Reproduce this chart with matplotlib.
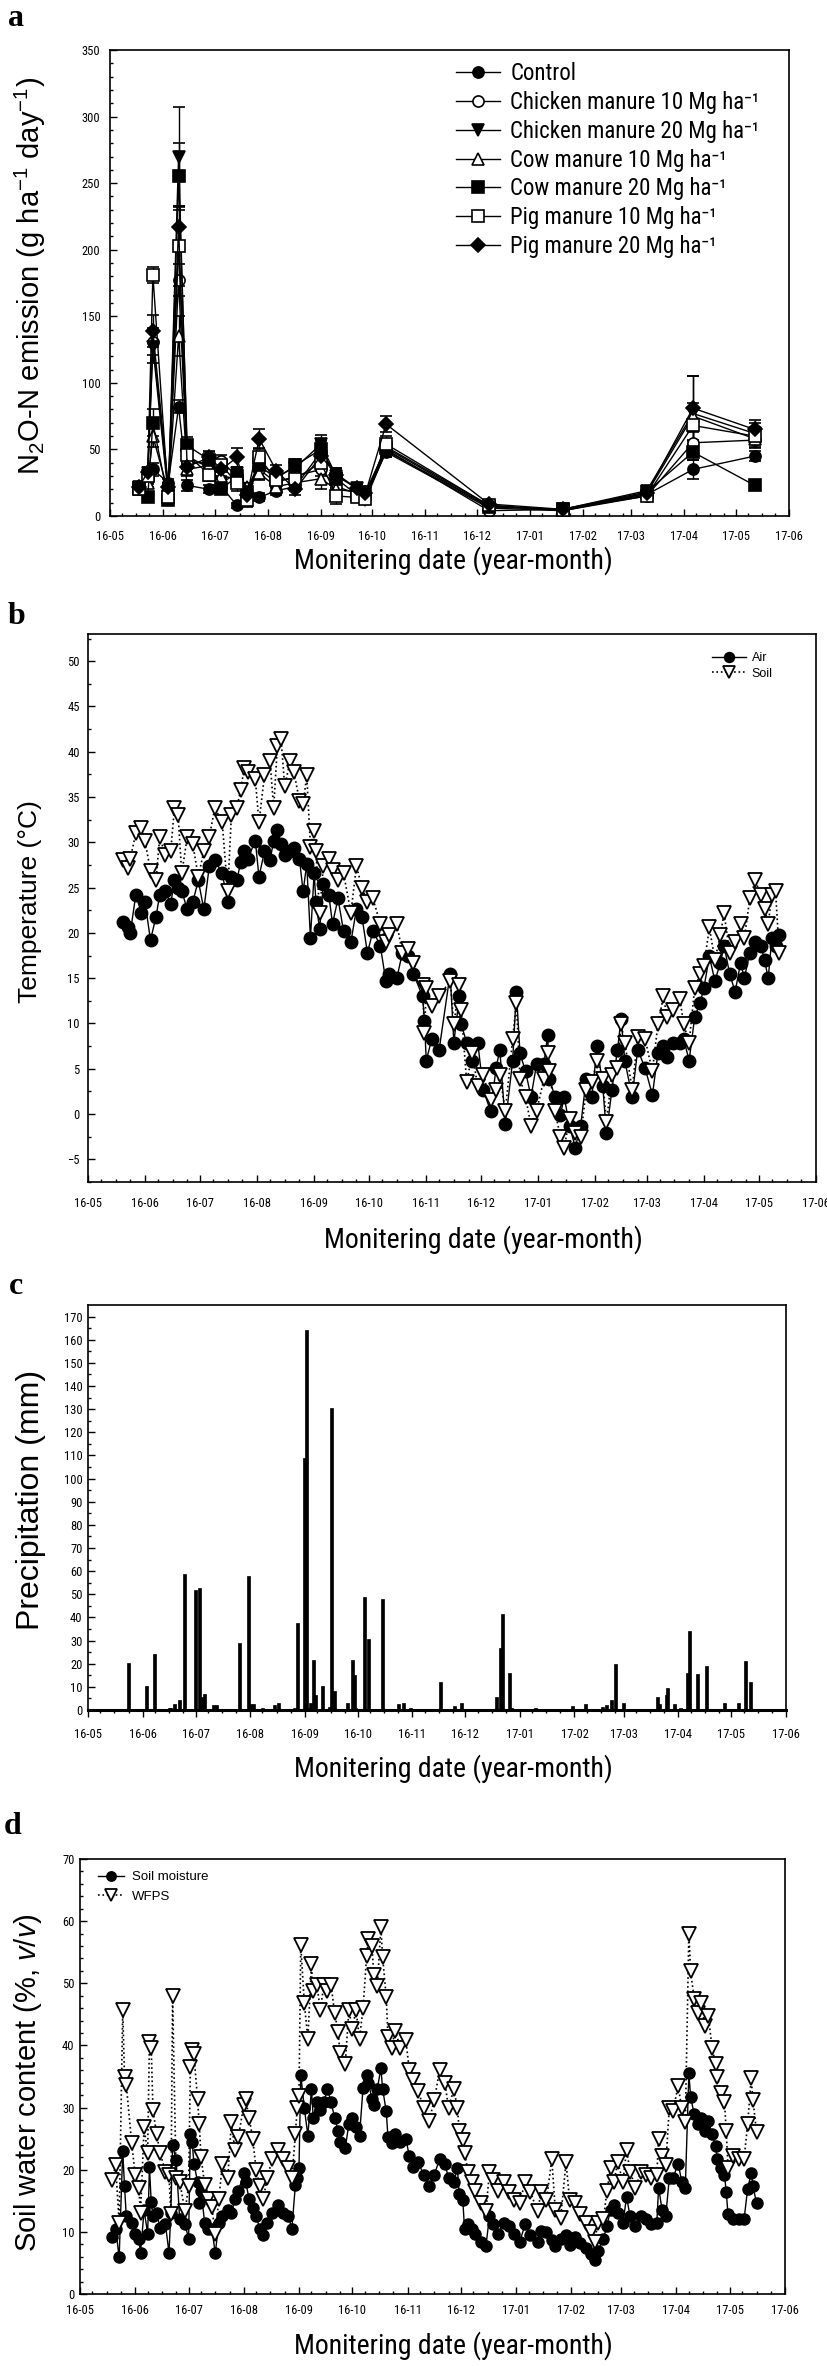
import matplotlib
matplotlib.use('Agg')
import matplotlib.pyplot as plt
import matplotlib.dates as mdates
from matplotlib import font_manager
from matplotlib.ticker import MultipleLocator, FixedLocator
import pandas as pd
import numpy as np

# ---------------- fonts ----------------
installed = {f.name for f in font_manager.fontManager.ttflist}
NARROW = next((n for n in ['Liberation Sans Narrow', 'Roboto Condensed', 'Open Sans Condensed']
               if n in installed), 'Liberation Sans')
plt.rcParams['font.family'] = [NARROW, 'DejaVu Sans']
plt.rcParams['mathtext.fontset'] = 'custom'
plt.rcParams['mathtext.rm'] = 'Liberation Sans'
plt.rcParams['mathtext.it'] = 'Liberation Sans:italic'
plt.rcParams['mathtext.default'] = 'regular'
WIDE = ['Liberation Sans', 'DejaVu Sans']

# ---------------- (a) N2O emission ----------------
a_dates = ['2016-05-18', '2016-05-23', '2016-05-26', '2016-06-04', '2016-06-10', '2016-06-15',
           '2016-06-28', '2016-07-05', '2016-07-14', '2016-07-20', '2016-07-27', '2016-08-06',
           '2016-08-17', '2016-09-01', '2016-09-10', '2016-09-22', '2016-09-27', '2016-10-09',
           '2016-12-08', '2017-01-20', '2017-03-10', '2017-04-06', '2017-05-12']
control = [21, 30, 35, 25, 82, 23, 20, 22, 8, 15, 14, 19, 22, 48, 32, 20, 14, 48, 6, 4, 16, 35, 45]
cm10 = [20, 28, 131, 20, 177, 40, 40, 41, 30, 17, 35, 25, 30, 35, 22, 17, 15, 50, 4, 5, 15, 55, 57]
cm20 = [22, 32, 127, 15, 270, 45, 36, 25, 32, 20, 40, 30, 36, 54, 30, 21, 12, 49, 7, 5, 19, 77, 62]
cow10 = [20, 25, 60, 18, 135, 35, 38, 30, 28, 22, 32, 22, 25, 28, 20, 18, 16, 52, 8, 4, 17, 75, 58]
cow20 = [21, 14, 70, 12, 255, 53, 42, 20, 30, 18, 38, 28, 38, 50, 28, 16, 18, 51, 7, 5, 18, 48, 23]
pig10 = [20, 30, 181, 14, 203, 46, 31, 38, 25, 12, 44, 27, 28, 40, 15, 14, 13, 54, 8, 4, 15, 68, 60]
pig20 = [22, 33, 139, 22, 217, 37, 44, 35, 44, 16, 58, 34, 20, 45, 31, 21, 17, 69, 9, 5, 17, 81, 65]

control_err = [2, 3, 5, 3, 5, 4, 3, 3, 2, 3, 3, 3, 3, 5, 4, 2, 2, 4, 1, 1, 2, 7, 4]
cm10_err = [2, 4, 10, 3, 12, 5, 6, 5, 5, 3, 6, 4, 4, 5, 4, 2, 2, 4, 1, 1, 2, 8, 6]
cm20_err = [2, 4, 12, 4, 37, 6, 5, 4, 5, 3, 5, 4, 5, 7, 5, 3, 2, 5, 1, 1, 2, 28, 8]
cow10_err = [2, 3, 8, 3, 15, 5, 5, 4, 4, 3, 5, 3, 4, 8, 5, 3, 2, 5, 1, 1, 2, 10, 6]
cow20_err = [2, 3, 10, 3, 25, 6, 6, 3, 5, 3, 5, 4, 5, 6, 5, 3, 3, 5, 1, 1, 2, 6, 3]
pig10_err = [2, 4, 6, 3, 30, 6, 5, 5, 6, 5, 6, 4, 5, 6, 6, 3, 2, 6, 1, 1, 2, 12, 6]
pig20_err = [2, 4, 12, 3, 15, 6, 5, 5, 7, 4, 7, 4, 4, 6, 5, 3, 2, 6, 1, 1, 2, 24, 7]

a_labels = ['Control', 'Chicken manure 10 Mg ha\u207b\u00b9', 'Chicken manure 20 Mg ha\u207b\u00b9',
            'Cow manure 10 Mg ha\u207b\u00b9', 'Cow manure 20 Mg ha\u207b\u00b9',
            'Pig manure 10 Mg ha\u207b\u00b9', 'Pig manure 20 Mg ha\u207b\u00b9']

# ---------------- (b) temperature ----------------
b_dates = ['2016-05-20', '2016-05-23', '2016-05-24', '2016-05-27', '2016-05-30', '2016-06-01',
           '2016-06-04', '2016-06-07', '2016-06-09', '2016-06-12', '2016-06-15', '2016-06-17',
           '2016-06-19', '2016-06-21', '2016-06-24', '2016-06-27', '2016-06-30', '2016-07-03',
           '2016-07-06', '2016-07-09', '2016-07-13', '2016-07-16', '2016-07-18', '2016-07-21',
           '2016-07-23', '2016-07-25', '2016-07-27', '2016-07-31', '2016-08-02', '2016-08-05',
           '2016-08-08', '2016-08-10', '2016-08-12', '2016-08-14', '2016-08-16', '2016-08-19',
           '2016-08-21', '2016-08-24', '2016-08-26', '2016-08-28', '2016-08-30', '2016-09-01',
           '2016-09-02', '2016-09-04', '2016-09-06', '2016-09-09', '2016-09-11', '2016-09-14',
           '2016-09-17', '2016-09-21', '2016-09-24', '2016-09-27', '2016-09-30', '2016-10-03',
           '2016-10-07', '2016-10-10', '2016-10-12', '2016-10-16', '2016-10-19', '2016-10-22',
           '2016-10-25', '2016-10-30', '2016-10-31', '2016-11-01', '2016-11-04', '2016-11-08',
           '2016-11-14', '2016-11-16', '2016-11-19', '2016-11-20', '2016-11-23', '2016-11-26',
           '2016-11-29', '2016-12-02', '2016-12-06', '2016-12-09', '2016-12-11', '2016-12-14',
           '2016-12-18', '2016-12-20', '2016-12-22', '2016-12-25', '2016-12-28', '2016-12-31',
           '2017-01-04', '2017-01-06', '2017-01-07', '2017-01-10', '2017-01-13', '2017-01-15',
           '2017-01-18', '2017-01-21', '2017-01-24', '2017-01-27', '2017-01-30', '2017-02-02',
           '2017-02-05', '2017-02-07', '2017-02-10', '2017-02-13', '2017-02-15', '2017-02-17',
           '2017-02-21', '2017-02-24', '2017-02-28', '2017-03-04', '2017-03-07', '2017-03-10',
           '2017-03-12', '2017-03-15', '2017-03-19', '2017-03-21', '2017-03-24', '2017-03-27',
           '2017-03-30', '2017-04-01', '2017-04-04', '2017-04-07', '2017-04-10', '2017-04-12',
           '2017-04-15', '2017-04-18', '2017-04-21', '2017-04-23', '2017-04-26', '2017-04-29',
           '2017-05-02', '2017-05-04', '2017-05-06', '2017-05-08', '2017-05-10', '2017-05-12']
air_temp = [21.2, 20.6, 20.0, 24.2, 22.2, 23.4, 19.2, 21.8, 24.2, 24.6, 23.2, 25.8,
            25.0, 24.6, 22.6, 23.4, 25.8, 22.6, 27.4, 28.0, 26.6, 23.4, 26.2, 25.8,
            27.8, 29.0, 28.2, 30.2, 26.2, 29.0, 28.0, 30.2, 31.4, 29.8, 28.6, 29.0,
            29.4, 28.2, 24.6, 27.6, 19.4, 26.6, 23.4, 20.4, 25.4, 24.2, 21.0, 23.8,
            20.2, 19.0, 22.6, 21.8, 17.8, 20.2, 18.6, 14.7, 15.5, 15.0, 17.8, 17.4,
            15.5, 13.0, 10.3, 5.9, 8.3, 7.1, 15.5, 7.9, 13.0, 9.9, 7.9, 5.9,
            7.9, 2.7, 0.3, 5.1, 7.1, -1.1, 5.9, 13.5, 6.7, 4.7, 1.9, 5.5,
            5.5, 8.7, 3.9, 1.9, -0.1, 1.9, -1.3, -3.7, -1.3, 3.9, 1.9, 7.5,
            3.1, -2.1, 2.7, 7.1, 10.5, 5.9, 1.9, 7.1, 5.1, 2.1, 6.7, 7.5,
            6.3, 7.9, 7.9, 8.3, 5.9, 10.7, 12.3, 13.9, 17.4, 14.7, 16.7, 18.6,
            15.5, 13.5, 16.7, 15.0, 17.8, 19.0, 18.6, 17.0, 15.0, 19.4, 18.6, 19.8]
soil_temp = [28.0, 27.2, 28.2, 31.0, 31.6, 30.2, 26.8, 25.8, 30.6, 28.6, 29.0, 33.8,
             33.0, 26.6, 30.6, 29.8, 26.2, 29.0, 30.6, 33.8, 32.2, 24.6, 33.0, 33.8,
             35.8, 38.2, 37.8, 37.0, 32.2, 37.4, 39.0, 33.8, 40.6, 41.4, 36.2, 39.0,
             37.8, 34.6, 34.2, 37.4, 29.5, 31.2, 29.0, 22.2, 27.4, 28.2, 27.0, 25.8,
             26.6, 22.2, 27.4, 25.0, 23.4, 23.8, 21.0, 19.0, 19.8, 21.0, 17.8, 18.2,
             16.7, 14.3, 9.0, 13.9, 11.9, 13.0, 14.7, 9.9, 14.3, 11.5, 3.5, 6.7,
             3.1, 4.3, 1.5, 2.7, 4.3, 0.3, 8.3, 12.3, 3.9, 1.9, -1.3, 0.3,
             3.9, 6.7, 4.7, 0.3, -2.5, -3.7, -0.5, -2.1, -2.5, 2.7, 3.5, 5.9,
             3.9, -0.9, 4.3, 5.1, 9.9, 7.9, 2.7, 8.5, 8.3, 4.7, 9.9, 13.0,
             10.7, 11.5, 12.7, 9.9, 7.9, 13.9, 15.5, 16.3, 20.6, 17.0, 19.8, 22.2,
             17.8, 19.0, 21.0, 19.4, 23.8, 25.8, 24.2, 22.6, 21.0, 24.2, 24.6, 17.8]

# ---------------- (c) precipitation ----------------
c_dates = ['2016-05-24', '2016-05-29', '2016-06-03', '2016-06-05', '2016-06-08', '2016-06-16',
           '2016-06-17', '2016-06-19', '2016-06-22', '2016-06-25', '2016-06-29', '2016-07-01',
           '2016-07-03', '2016-07-05', '2016-07-06', '2016-07-09', '2016-07-11', '2016-07-13',
           '2016-07-26', '2016-07-31', '2016-08-01', '2016-08-03', '2016-08-08', '2016-08-15',
           '2016-08-17', '2016-08-26', '2016-08-28', '2016-09-01', '2016-09-02', '2016-09-03',
           '2016-09-04', '2016-09-06', '2016-09-07', '2016-09-11', '2016-09-15', '2016-09-16',
           '2016-09-18', '2016-09-25', '2016-09-28', '2016-09-29', '2016-09-30', '2016-10-05',
           '2016-10-07', '2016-10-15', '2016-10-24', '2016-10-27', '2016-10-31', '2016-11-17',
           '2016-11-25', '2016-11-29', '2016-12-19', '2016-12-21', '2016-12-22', '2016-12-26',
           '2016-12-27', '2017-01-10', '2017-01-31', '2017-02-07', '2017-02-17', '2017-02-19',
           '2017-02-22', '2017-02-24', '2017-03-01', '2017-03-20', '2017-03-21', '2017-03-25',
           '2017-03-26', '2017-03-30', '2017-04-02', '2017-04-06', '2017-04-07', '2017-04-12',
           '2017-04-17', '2017-04-27', '2017-05-05', '2017-05-09', '2017-05-12']
precip = [20.2, 0.5, 10.3, 0.5, 24.0, 1.0, 1.0, 2.4, 4.4, 58.7, 0.5, 52.0,
          52.8, 5.7, 7.0, 0.5, 2.0, 2.0, 29.0, 58.0, 2.4, 2.4, 1.0, 2.0,
          3.0, 0.7, 37.6, 109.0, 164.0, 0.8, 3.0, 21.8, 6.3, 10.5, 1.3, 130.7,
          8.0, 3.0, 21.5, 15.0, 0.7, 48.8, 30.6, 48.0, 2.6, 3.0, 0.9, 12.0,
          1.7, 3.0, 5.5, 26.7, 41.3, 16.0, 0.7, 0.7, 1.7, 2.6, 1.3, 2.0,
          4.4, 19.8, 3.0, 5.5, 2.6, 6.6, 9.6, 2.6, 1.0, 16.2, 34.0, 15.6,
          19.0, 3.0, 3.0, 21.0, 12.0]

# ---------------- (d) soil water ----------------
d_dates = ['2016-05-19', '2016-05-21', '2016-05-23', '2016-05-25', '2016-05-26', '2016-05-27',
           '2016-05-30', '2016-06-01', '2016-06-03', '2016-06-04', '2016-06-06', '2016-06-08',
           '2016-06-09', '2016-06-10', '2016-06-11', '2016-06-13', '2016-06-15', '2016-06-18',
           '2016-06-20', '2016-06-21', '2016-06-22', '2016-06-24', '2016-06-26', '2016-06-29',
           '2016-07-01', '2016-07-02', '2016-07-03', '2016-07-04', '2016-07-06', '2016-07-07',
           '2016-07-08', '2016-07-10', '2016-07-12', '2016-07-14', '2016-07-16', '2016-07-18',
           '2016-07-20', '2016-07-23', '2016-07-25', '2016-07-27', '2016-07-29', '2016-08-01',
           '2016-08-02', '2016-08-04', '2016-08-06', '2016-08-08', '2016-08-10', '2016-08-12',
           '2016-08-14', '2016-08-17', '2016-08-20', '2016-08-23', '2016-08-26', '2016-08-28',
           '2016-08-30', '2016-08-31', '2016-09-01', '2016-09-02', '2016-09-04', '2016-09-06',
           '2016-09-08', '2016-09-09', '2016-09-11', '2016-09-13', '2016-09-15', '2016-09-17',
           '2016-09-19', '2016-09-21', '2016-09-23', '2016-09-24', '2016-09-27', '2016-09-29',
           '2016-10-01', '2016-10-03', '2016-10-05', '2016-10-07', '2016-10-09', '2016-10-10',
           '2016-10-12', '2016-10-13', '2016-10-15', '2016-10-17', '2016-10-18', '2016-10-20',
           '2016-10-21', '2016-10-23', '2016-10-25', '2016-10-28', '2016-10-31', '2016-11-02',
           '2016-11-04', '2016-11-07', '2016-11-10', '2016-11-13', '2016-11-16', '2016-11-19',
           '2016-11-22', '2016-11-24', '2016-11-27', '2016-11-29', '2016-11-30', '2016-12-02',
           '2016-12-03', '2016-12-05', '2016-12-07', '2016-12-09', '2016-12-12', '2016-12-15',
           '2016-12-17', '2016-12-19', '2016-12-22', '2016-12-25', '2016-12-28', '2016-12-31',
           '2017-01-03', '2017-01-06', '2017-01-09', '2017-01-13', '2017-01-15', '2017-01-18',
           '2017-01-21', '2017-01-23', '2017-01-26', '2017-01-29', '2017-01-31', '2017-02-03',
           '2017-02-06', '2017-02-09', '2017-02-12', '2017-02-14', '2017-02-16', '2017-02-19',
           '2017-02-21', '2017-02-23', '2017-02-25', '2017-02-27', '2017-03-02', '2017-03-04',
           '2017-03-06', '2017-03-09', '2017-03-12', '2017-03-15', '2017-03-18', '2017-03-21',
           '2017-03-22', '2017-03-24', '2017-03-26', '2017-03-28', '2017-03-30', '2017-04-02',
           '2017-04-04', '2017-04-06', '2017-04-08', '2017-04-09', '2017-04-11', '2017-04-13',
           '2017-04-15', '2017-04-17', '2017-04-19', '2017-04-21', '2017-04-23', '2017-04-24',
           '2017-04-26', '2017-04-28', '2017-04-29', '2017-04-30', '2017-05-03', '2017-05-06',
           '2017-05-09', '2017-05-11', '2017-05-13', '2017-05-14', '2017-05-16']
soil_moist = [9.2, 10.5, 5.9, 23.0, 17.4, 12.5, 11.5, 9.7, 8.9, 6.6, 13.5, 9.7,
              20.4, 14.8, 12.5, 13.0, 10.7, 11.2, 6.6, 13.0, 24.0, 21.5, 12.0, 11.2,
              8.9, 25.8, 24.5, 21.0, 18.1, 14.6, 16.6, 11.5, 10.5, 10.5, 6.6, 11.5,
              12.5, 13.5, 13.0, 15.3, 16.6, 19.4, 18.1, 15.3, 13.8, 12.5, 10.5, 9.5,
              11.5, 13.0, 14.3, 13.0, 12.5, 10.5, 17.6, 18.6, 20.2, 35.3, 29.9, 25.5,
              33.0, 28.4, 30.9, 29.6, 30.9, 33.0, 30.9, 28.4, 26.3, 24.5, 23.5, 27.3,
              28.4, 26.8, 25.5, 33.2, 35.3, 34.0, 31.4, 30.4, 33.0, 36.3, 33.0, 29.4,
              25.3, 24.3, 25.8, 24.5, 25.0, 22.2, 20.4, 21.2, 19.2, 17.4, 19.2, 21.7,
              21.0, 18.6, 18.1, 20.2, 16.1, 15.1, 10.5, 11.2, 10.5, 9.7, 8.4, 7.7,
              12.5, 11.2, 9.7, 11.5, 11.0, 9.7, 8.4, 11.2, 9.5, 8.4, 10.2, 10.0,
              8.7, 7.7, 8.9, 9.5, 7.9, 9.2, 8.2, 7.4, 6.4, 5.4, 6.9, 8.9,
              11.0, 13.5, 14.3, 13.0, 11.5, 15.6, 12.5, 11.0, 12.5, 12.0, 11.2, 11.5,
              17.1, 13.5, 12.5, 18.6, 18.6, 21.0, 18.1, 17.1, 35.5, 31.7, 28.9, 27.3,
              28.4, 26.3, 27.8, 25.8, 23.8, 21.7, 20.2, 19.2, 16.4, 12.8, 12.0, 12.0,
              12.0, 16.9, 19.4, 17.4, 14.6]
wfps = [18.4, 20.7, 11.5, 45.7, 35.0, 33.7, 24.3, 19.2, 17.1, 13.0, 26.8, 22.7,
        40.6, 39.6, 29.6, 25.8, 22.7, 19.7, 19.2, 12.8, 48.0, 18.6, 18.1, 13.3,
        17.4, 36.5, 39.3, 38.6, 31.4, 27.3, 22.0, 17.6, 15.3, 14.0, 9.7, 15.3,
        21.0, 18.6, 27.6, 23.2, 25.3, 30.4, 31.4, 28.4, 25.0, 19.9, 17.4, 15.3,
        18.6, 21.7, 23.2, 21.7, 20.2, 18.6, 25.8, 29.9, 31.9, 56.2, 46.8, 41.1,
        53.1, 48.8, 49.8, 45.7, 49.8, 48.8, 49.8, 45.2, 42.2, 38.8, 37.0, 45.7,
        42.7, 45.7, 41.1, 46.0, 54.4, 57.2, 56.0, 51.4, 49.6, 59.0, 54.2, 47.8,
        41.4, 39.6, 42.4, 39.6, 40.9, 36.0, 34.5, 32.7, 29.9, 27.8, 31.2, 36.0,
        34.0, 29.9, 33.0, 29.9, 26.3, 24.8, 22.7, 19.7, 18.1, 16.6, 14.6, 13.3,
        19.7, 18.4, 16.6, 18.1, 16.4, 15.1, 14.6, 18.1, 16.4, 13.3, 16.4, 15.1,
        21.7, 13.5, 12.3, 21.2, 15.1, 14.6, 12.8, 11.5, 10.0, 8.4, 11.5, 12.0,
        16.6, 20.2, 18.1, 21.2, 18.1, 23.2, 19.7, 17.1, 19.7, 19.2, 18.6, 19.2,
        25.0, 22.2, 20.7, 29.9, 29.4, 33.5, 29.9, 27.6, 58.0, 51.9, 47.5, 45.2,
        46.8, 43.2, 44.7, 39.6, 37.0, 35.0, 32.4, 30.9, 26.3, 20.2, 22.2, 21.7,
        21.7, 27.3, 34.7, 31.2, 26.1]

# ---------------- layout (pixel positions of the reference) ----------------
W, H = 827, 2366


def rect(l, r, t, b):
    return [l / W, 1 - b / H, (r - l) / W, (b - t) / H]


def fpt(x, y):
    return (x / W, 1 - y / H)


fig = plt.figure(figsize=(W / 100, H / 100), dpi=100)
ax_a = fig.add_axes(rect(110, 789, 50, 516))
ax_b = fig.add_axes(rect(88, 816, 634, 1182))
ax_c = fig.add_axes(rect(88, 786, 1305, 1710))
ax_d = fig.add_axes(rect(80, 785, 1859, 2294))

x0, x1 = pd.Timestamp('2016-05-01'), pd.Timestamp('2017-06-01')


def style_axes(ax, xdir='in', xpad=4, ypad=5):
    ax.set_xlim(x0, x1)
    ax.xaxis.set_major_locator(mdates.MonthLocator())
    ax.xaxis.set_major_formatter(mdates.DateFormatter('%y-%m'))
    ax.xaxis.set_minor_locator(mdates.DayLocator(bymonthday=[8, 16, 24]))
    ax.tick_params(axis='x', which='major', direction=xdir, length=5, width=1,
                   labelsize=9, pad=xpad, top=False)
    ax.tick_params(axis='x', which='minor', direction=xdir, length=2.5, width=1, top=False)
    ax.tick_params(axis='y', which='major', direction='in', length=5, width=1,
                   labelsize=9, pad=ypad, right=False)
    ax.tick_params(axis='y', which='minor', direction='in', length=2.5, width=1, right=False)
    for s in ax.spines.values():
        s.set_linewidth(1.2)


def set_labels(ax, xlabel, xpos, ylabel, ypos, ysize=21):
    ax.set_xlabel(xlabel, fontsize=20)
    ax.xaxis.set_label_coords(*fpt(*xpos), transform=fig.transFigure)
    ax.xaxis.label.set_va('center')
    ax.set_ylabel(ylabel, fontsize=ysize, family=WIDE)
    ax.yaxis.set_label_coords(*fpt(*ypos), transform=fig.transFigure)
    ax.yaxis.label.set_va('center')


# ---- (a) ----
a_series = [control, cm10, cm20, cow10, cow20, pig10, pig20]
a_errs = [control_err, cm10_err, cm20_err, cow10_err, cow20_err, pig10_err, pig20_err]
a_markers = ['o', 'o', 'v', '^', 's', 's', 'D']
a_faces = ['k', 'white', 'k', 'white', 'k', 'white', 'k']
a_x = pd.to_datetime(a_dates)
handles = []
for vals, err, mk, fc in zip(a_series, a_errs, a_markers, a_faces):
    c = ax_a.errorbar(a_x, vals, yerr=err, fmt='-' + mk, color='k', mfc=fc, mec='k',
                      ms=8 if mk != 'D' else 7.5, mew=1.2, lw=1, elinewidth=1,
                      capsize=4, capthick=1)
    handles.append(c[0])
ax_a.set_ylim(0, 350)
ax_a.yaxis.set_major_locator(MultipleLocator(50))
ax_a.yaxis.set_minor_locator(MultipleLocator(10))
style_axes(ax_a, xpad=10, ypad=7)
ax_a.legend(handles, a_labels, loc='upper left', bbox_to_anchor=(0.51, 0.975),
            frameon=False, prop={'family': [NARROW, 'DejaVu Sans'], 'size': 16.5},
            handlelength=1.9, handletextpad=0.45, labelspacing=0.26, borderpad=0,
            borderaxespad=0)
set_labels(ax_a, 'Monitering date (year-month)', (453, 561),
           'N$_2$O-N emission (g ha$^{-1}$ day$^{-1}$)', (30, 276))

# ---- (b) ----
b_x = pd.to_datetime(b_dates)
ax_b.plot(b_x, air_temp, '-o', color='k', ms=9, lw=1, label='Air')
ax_b.plot(b_x, soil_temp, ':v', color='k', mfc='white', mec='k', mew=1.3, ms=10, lw=1.2,
          label='Soil')
ax_b.set_ylim(-7.5, 53)
ax_b.yaxis.set_major_locator(FixedLocator(np.arange(-5, 51, 5)))
ax_b.yaxis.set_minor_locator(MultipleLocator(2.5))
style_axes(ax_b, xpad=11, ypad=6)
ax_b.legend(loc='upper left', bbox_to_anchor=(0.857, 0.967), frameon=False,
            prop={'family': WIDE, 'size': 9}, handlelength=2.7, handletextpad=0.5,
            labelspacing=0.3, borderpad=0, borderaxespad=0, markerscale=0.8)
set_labels(ax_b, 'Monitering date (year-month)', (483, 1240), 'Temperature (\u00b0C)', (30, 902),
           ysize=19)

# ---- (c) ----
c_x = pd.to_datetime(c_dates)
ax_c.bar(c_x, precip, width=1.7, color='k', edgecolor='k', linewidth=0.5)
ax_c.set_ylim(0, 175)
ax_c.yaxis.set_major_locator(FixedLocator(np.arange(0, 171, 10)))
ax_c.yaxis.set_minor_locator(FixedLocator(np.arange(0, 175, 5)))
style_axes(ax_c, xdir='out', xpad=8, ypad=4)
ax_c.spines['bottom'].set_linewidth(2.2)
set_labels(ax_c, 'Monitering date (year-month)', (453, 1769), 'Precipitation (mm)', (31, 1500),
           ysize=23)

# ---- (d) ----
d_x = pd.to_datetime(d_dates)
ax_d.plot(d_x, soil_moist, '-o', color='k', ms=8, lw=1, label='Soil moisture')
ax_d.plot(d_x, wfps, ':v', color='k', mfc='white', mec='k', mew=1.3, ms=9.5, lw=1.2, label='WFPS')
ax_d.set_ylim(0, 70)
ax_d.yaxis.set_major_locator(MultipleLocator(10))
ax_d.yaxis.set_minor_locator(MultipleLocator(2))
style_axes(ax_d, xpad=7, ypad=4)
ax_d.legend(loc='upper left', bbox_to_anchor=(0.025, 0.972), frameon=False,
            prop={'family': WIDE, 'size': 9.5}, handlelength=2.0, handletextpad=0.6,
            labelspacing=0.55, borderpad=0, borderaxespad=0, markerscale=0.85)
set_labels(ax_d, 'Monitering date (year-month)', (453, 2346),
           'Soil water content (%, $\\mathit{v/v}$)', (28, 2083), ysize=21)

# ---- panel letters ----
for letter, pos in zip(['a', 'b', 'c', 'd'], [(16, 18), (16, 616), (16, 1287), (13, 1826)]):
    fig.text(*fpt(*pos), letter, ha='center', va='center', fontsize=23,
             fontweight='bold', family=['Liberation Serif', 'DejaVu Serif'])

fig.savefig('out.png', dpi=100)
